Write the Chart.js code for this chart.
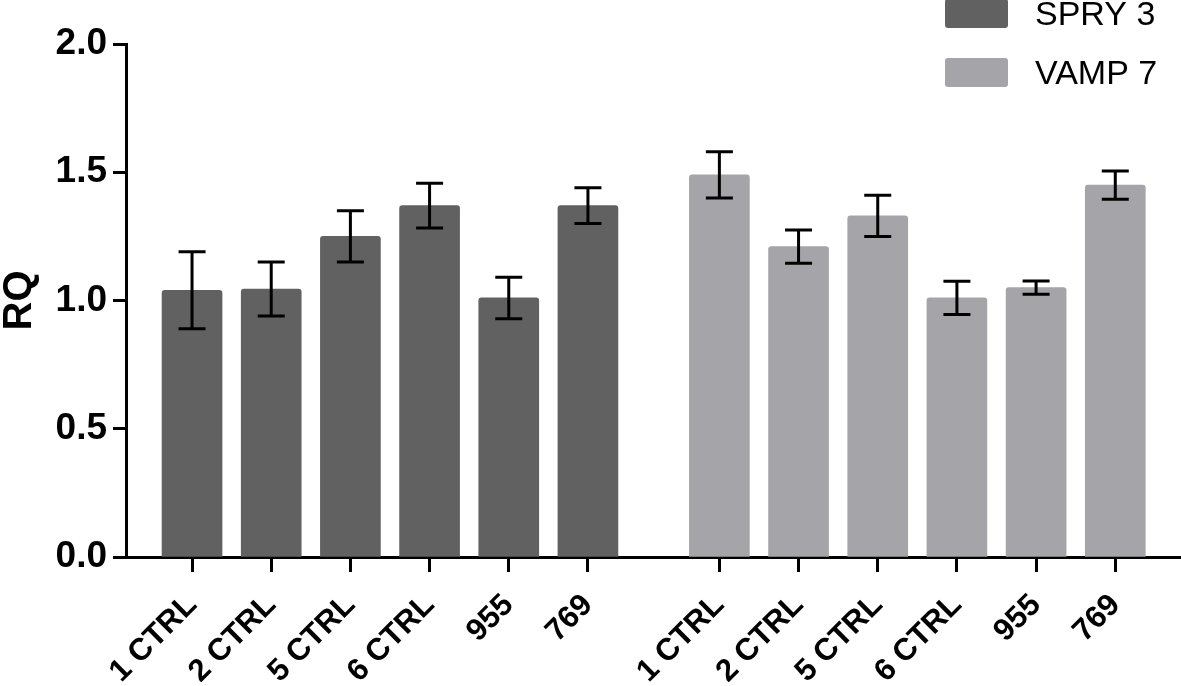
<!DOCTYPE html>
<html lang="en">
<head>
    <meta charset="UTF-8">
    <title>RQ - SPRY 3 / VAMP 7</title>
    <script src="https://cdn.jsdelivr.net/npm/chart.js"></script>
    <style>
        body { margin: 0; background: #fff; }
        canvas { display: block; }
    </style>
</head>
<body>
<canvas id="rqChart" width="1181" height="686"></canvas>

<script>
    // categories and values
    const categories = ['1 CTRL', '2 CTRL', '5 CTRL', '6 CTRL', '955', '769'];
    const spry3 = [1.04, 1.045, 1.25, 1.37, 1.01, 1.37];
    const spry3Err = [0.15, 0.105, 0.10, 0.087, 0.081, 0.07];
    const vamp7 = [1.49, 1.21, 1.33, 1.01, 1.05, 1.45];
    const vamp7Err = [0.09, 0.065, 0.08, 0.065, 0.026, 0.055];
    const seriesNames = ['SPRY 3', 'VAMP 7'];

    const darkGray = '#616161';
    const lightGray = '#a5a5a9';
    const groupStart = [0, 6.66]; // second group starts after a gap

    // x position of each bar = group start + index
    const spryX = categories.map((c, i) => groupStart[0] + i);
    const vampX = categories.map((c, i) => groupStart[1] + i);
    const allX = spryX.concat(vampX);
    const allLabels = categories.concat(categories);

    // error bars
    const errorBars = {
        id: 'errorBars',
        afterDatasetsDraw(chart) {
            const ctx = chart.ctx;
            const y = chart.scales.y;
            const errs = [spry3Err, vamp7Err];
            ctx.save();
            ctx.strokeStyle = '#000';
            ctx.lineWidth = 3;
            chart.data.datasets.forEach((ds, d) => {
                chart.getDatasetMeta(d).data.forEach((bar, i) => {
                    const v = ds.data[i].y;
                    const top = y.getPixelForValue(v + errs[d][i]);
                    const bot = y.getPixelForValue(v - errs[d][i]);
                    ctx.beginPath();
                    ctx.moveTo(bar.x, top);
                    ctx.lineTo(bar.x, bot);
                    ctx.moveTo(bar.x - 13.5, top);
                    ctx.lineTo(bar.x + 13.5, top);
                    ctx.moveTo(bar.x - 13.5, bot);
                    ctx.lineTo(bar.x + 13.5, bot);
                    ctx.stroke();
                });
            });
            ctx.restore();
        }
    };

    // legend in the top right corner
    const cornerLegend = {
        id: 'cornerLegend',
        afterDraw(chart) {
            const ctx = chart.ctx;
            ctx.save();
            ctx.font = '34px "Liberation Sans", Arial, sans-serif';
            ctx.textBaseline = 'middle';
            chart.data.datasets.forEach((ds, d) => {
                const yTop = -1 + d * 59;
                ctx.fillStyle = ds.backgroundColor;
                ctx.beginPath();
                ctx.roundRect(945, yTop, 63, 29, 3);
                ctx.fill();
                ctx.fillStyle = '#000';
                ctx.fillText(ds.label, 1035, yTop + 17);
            });
            ctx.restore();
        }
    };

    new Chart(document.getElementById('rqChart').getContext('2d'), {
        type: 'bar',
        data: {
            datasets: [{
                label: seriesNames[0],
                data: spry3.map((v, i) => ({ x: spryX[i], y: v })),
                backgroundColor: darkGray
            }, {
                label: seriesNames[1],
                data: vamp7.map((v, i) => ({ x: vampX[i], y: v })),
                backgroundColor: lightGray
            }]
        },
        options: {
            responsive: false,
            animation: false,
            devicePixelRatio: 1,
            layout: { padding: { top: 44, right: 0, left: 0, bottom: 0 } },
            datasets: {
                bar: { grouped: false, barThickness: 60, borderRadius: 3 }
            },
            plugins: {
                legend: { display: false },
                tooltip: { enabled: false }
            },
            scales: {
                x: {
                    type: 'linear',
                    min: -0.834,
                    max: 12.49,
                    offset: false,
                    afterBuildTicks: scale => {
                        scale.ticks = allX.map(v => ({ value: v }));
                    },
                    afterFit: scale => { scale.height = 129; },
                    grid: {
                        offset: false,
                        drawOnChartArea: false,
                        tickLength: 15,
                        tickWidth: 3,
                        tickColor: '#000'
                    },
                    border: { color: '#000', width: 3 },
                    ticks: {
                        autoSkip: false,
                        minRotation: 45,
                        maxRotation: 45,
                        padding: 15,
                        color: '#000',
                        font: { family: '"Liberation Sans", Arial, sans-serif', size: 31, weight: 'bold' },
                        callback: (value, index) => allLabels[index]
                    }
                },
                y: {
                    min: 0,
                    max: 2,
                    afterFit: scale => { scale.width = 126; },
                    grid: {
                        drawOnChartArea: false,
                        tickLength: 13,
                        tickWidth: 3,
                        tickColor: '#000'
                    },
                    border: { color: '#000', width: 3 },
                    ticks: {
                        stepSize: 0.5,
                        padding: 6,
                        color: '#000',
                        font: { family: '"Liberation Sans", Arial, sans-serif', size: 37, weight: 'bold' },
                        callback: v => v.toFixed(1)
                    },
                    title: {
                        display: true,
                        text: 'RQ',
                        color: '#000',
                        padding: 0,
                        font: { family: '"Liberation Sans", Arial, sans-serif', size: 40, weight: 'bold', lineHeight: 1 }
                    }
                }
            }
        },
        plugins: [errorBars, cornerLegend]
    });
</script>
</body>
</html>
